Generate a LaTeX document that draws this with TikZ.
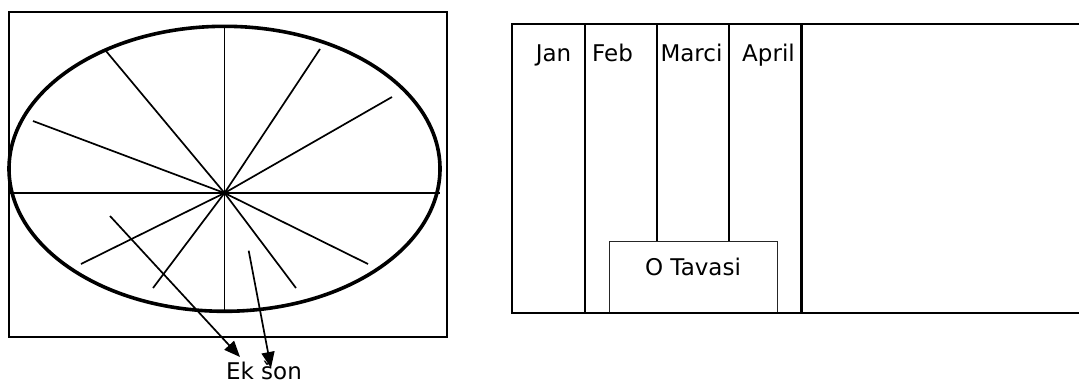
\documentclass[tikz,border=0pt]{standalone}
\usepackage{fontspec}
\setmainfont{DejaVu Sans}
\usetikzlibrary{arrows.meta}
\tikzset{
  frame/.style={draw=black, line width=2.4pt},
  spoke/.style={draw=black, line width=1.7pt},
  divider/.style={draw=black, line width=2.2pt},
  lbl/.style={font=\fontsize{23}{27}\selectfont, anchor=base, inner sep=0pt, text=black},
  pointer/.style={draw=black, line width=1.7pt, -{Triangle[length=16pt,width=13pt]}},
}
\begin{document}
\begin{tikzpicture}[x=1pt,y=-1pt]
\useasboundingbox (0,0) rectangle (1079,383);
\clip (0,0) rectangle (1079,383);
% ---- left figure ----
\draw[frame] (9,12) rectangle (447,337);
\coordinate (c) at (224.5,193);
\draw[spoke] (9,193) -- (440,193);
\draw[spoke] (224.5,26) -- (224.5,312);
\foreach \p in {(106,51),(33,121),(320,49),(392,97),(81,264),(153,288),(296,288),(368,264)}
  \draw[spoke] (c) -- \p;
\draw[black, line width=3.6pt] (224.5,168.8) ellipse [x radius=215.5pt, y radius=142.5pt];
\coordinate (a1s) at (110,216);
\coordinate (a1e) at (240,357);
\coordinate (a2s) at (248.7,250.7);
\coordinate (a2e) at (271,368);
\draw[pointer] (a1s) -- (a1e);
\draw[pointer] (a2s) -- (a2e);
\node[lbl] (ekson) at (264,379.5) {Ek šon};
% ---- right figure ----
\draw[frame, line width=2.6pt] (512,24) rectangle (1090,313);
\draw[divider] (585,24) -- (585,313);
\draw[divider] (801.5,24) -- (801.5,313);
\draw[divider] (657,24) -- (657,241);
\draw[divider] (729,24) -- (729,241);
\node[draw=black!85, line width=1.4pt, minimum width=168pt, minimum height=72pt, inner sep=0pt, anchor=north west, fill=white] (box) at (609,241) {};
\draw[frame, line width=2.6pt] (512,313) -- (1090,313);
\node[lbl] (jan) at (553.5,61) {Jan};
\node[lbl] (feb) at (612.5,61) {Feb};
\node[lbl] (marci) at (691.5,61) {Marci};
\node[lbl] (april) at (768.5,61) {April};
\node[lbl] (tavasi) at (693,275) {O Tavasi};
\end{tikzpicture}
\end{document}
